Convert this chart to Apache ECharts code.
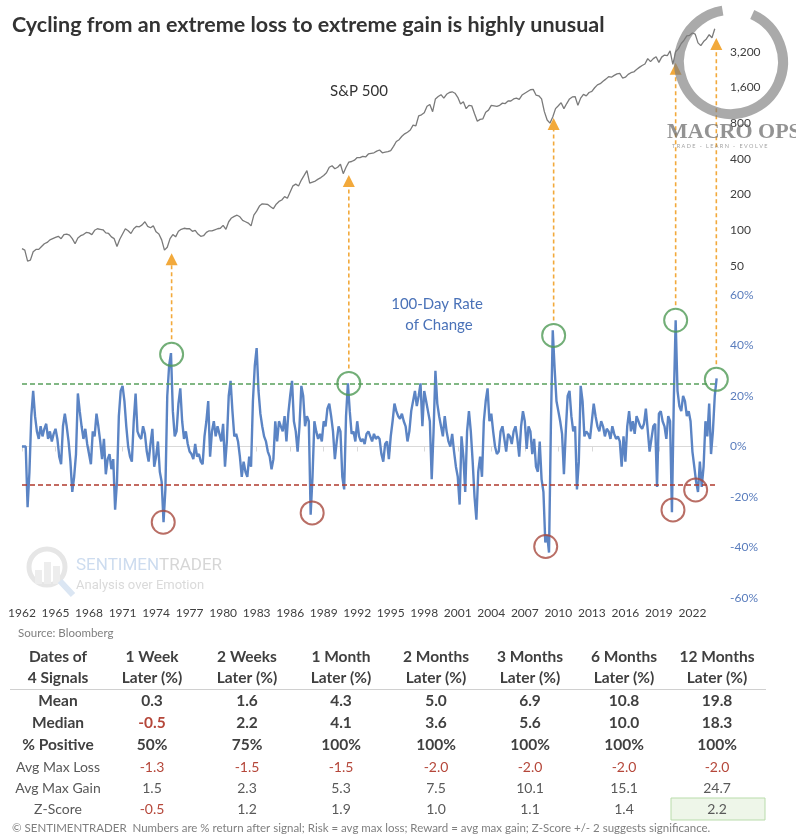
<!DOCTYPE html>
<html>
<head>
<meta charset="utf-8">
<script src="https://cdn.jsdelivr.net/npm/echarts@6.0.0/dist/echarts.min.js"></script>
<style>
  html, body { margin: 0; padding: 0; background: #fff; }
  #chart { width: 796px; height: 834px; }
</style>
</head>
<body>
<div id="chart"></div>
<script>
  // S&P 500, one value per quarter from 1962
  const spStart = 1962, spPerYear = 4;
  const spValues = [
    70, 68, 55, 56,  66, 69, 69, 73,  77, 79, 83, 85,  87, 89, 85, 92,
    93, 91, 85, 77,  86, 90, 92, 96,  95, 92, 100, 103,  102, 101, 95, 94,
    88, 85, 73, 84,  93, 103, 99, 94,  103, 108, 107, 111,  118, 108, 105, 109,
    97, 93, 83, 68,  72, 85, 92, 88,  98, 102, 104, 103,  103, 98, 100, 93,
    89, 90, 96, 99,  99, 101, 103, 104,  110, 102, 118, 127,  131, 134, 130, 121,
    118, 115, 109, 134,  145, 160, 167, 166,  165, 158, 152, 166,  175, 180, 192, 186,
    210, 237, 245, 236,  265, 290, 318, 250,  255, 260, 270, 278,  290, 305, 340, 350,
    330, 340, 360, 300,  340, 375, 380, 390,  410, 410, 420, 415,  440, 445, 450, 465,
    475, 450, 455, 460,  470, 510, 560, 580,  620, 650, 670, 700,  770, 760, 920, 940,
    980, 1110, 1150, 1000,  1280, 1340, 1390, 1300,  1400, 1450, 1470, 1430,  1320, 1160, 1210, 1060,
    1130, 1120, 960, 830,  860, 870, 990, 1030,  1130, 1120, 1110, 1130,  1180, 1170, 1230, 1230,
    1280, 1300, 1270, 1380,  1430, 1480, 1530, 1540,  1380, 1360, 1280, 1000,  850, 800, 900, 1060,
    1120, 1190, 1060, 1170,  1280, 1330, 1340, 1130,  1300, 1400, 1360, 1450,  1480, 1590, 1680, 1720,
    1800, 1880, 1970, 1950,  2020, 2080, 2100, 1920,  1950, 2060, 2130, 2160,  2270, 2360, 2450, 2520,
    2800, 2640, 2800, 2900,  2600, 2880, 3000, 2960,  3250, 2500, 3200, 3400,  3750, 4000, 4350, 4400,
    4600, 4500, 3800, 3600,  3900, 4100, 4450, 4200,  5000
  ];
  const spTicks = [50, 100, 200, 400, 800, 1600, 3200];

  // 100-day rate of change (%), six readings a year from 1962
  const rocStart = 1962, rocPerYear = 6;
  const rocValues = [
    0, 0, 0, -24, -10, 12,     22, 12, 6, 3, 8, 4,       7, 9, 3, 6, 2, 5,         7, 3, -4, -7, 8, 13,
    8, 2, -6, -18, -12, -3,    21, 14, 8, 3, 7, 1,       -3, -7, 6, 4, 13, 8,      2, -5, 3, -11, -5, -3,
    -9, -5, -25, -14, 12, 22,  24, 18, 8, 0, -4, -6,     10, 21, 6, 4, 3, 8,       5, -2, -6, 1, 7, -8,
    -4, 2, -10, -14, -30, -17, 20, 32, 37, 14, 4, 6,     17, 23, 10, 3, 6, 1,      -2, -3, -5, 1, -4, -3,
    -6, -7, 4, 10, 18, -4,     6, 10, 4, 8, 5, 2,        9, -8, 2, 20, 26, 14,     4, 5, 2, -4, -12, -6,
    -10, -12, -4, -8, 18, 32,  39, 22, 13, 8, 4, 2,      -2, -4, -9, -5, 10, 2,    10, 8, 6, 12, 2, 13,
    20, 26, 10, 6, -2, 8,      24, 20, 8, 12, 10, -27,   -12, 10, 6, 3, 5, 2,      10, 8, 15, 17, 12, 6,
    -5, 2, 8, 6, -12, -17,     12, 25, 14, 5, 6, 2,      10, 4, 2, 3, 1, 5,        6, 4, 2, 5, 3, 4,
    3, -3, -6, 1, 2, -5,       4, 10, 17, 14, 12, 11,    13, 10, 8, 2, 6, 14,      14, 22, 16, 20, 25, 8,
    22, 18, 14, 10, -13, 6,    30, 17, 12, 8, 4, 12,     6, 2, 0, 5, -2, -8,       -12, -23, 4, -4, -18, 6,
    14, 6, -6, -20, -29, -10,  -4, -12, 10, 18, 23, 10,  13, 6, 0, -3, -2, 6,      8, 3, -2, 5, 4, 1,
    6, 8, 3, -4, 8, 14,        10, -1, 8, 6, -3, 3,      -8, -10, 2, -13, -18, -38, -35, -42, 8, 46, 31, 18,
    14, 10, 5, -11, 6, 20,     22, 12, 6, 8, -17, -6,    24, 18, 4, 6, 5, 3,       10, 17, 12, 8, 6, 10,
    8, 4, 7, 6, 3, 8,          5, 3, 4, 2, -8, 4,        -6, 8, 14, 6, 10, 5,      12, 10, 8, 7, 9, 15,
    15, -2, 3, 8, 9, -16,      13, 14, 10, 8, 3, 12,     10, -26, 18, 50, 22, 16,  14, 20, 18, 12, 14, 10,
    -2, -8, -14, -18, -6, -16, -8, 10, 4, 17, -3, 6,     20, 27
  ];
  const upperBand = 25, lowerBand = -15;

  // circled extremes [year, roc]
  const gainSignals = [[1975.39, 36.5], [1991.25, 25], [2009.58, 44], [2020.5, 50], [2024.14, 26.6]];
  const lossSignals = [[1974.64, -30], [1987.97, -26.3], [2008.87, -39.6], [2020.26, -25.1], [2022.29, -17.2]];
  // S&P level where each orange arrow ends
  const arrowTips = [64, 293, 886, 2580, 4180];

  // table
  const headTop = ['Dates of', '1 Week', '2 Weeks', '1 Month', '2 Months', '3 Months', '6 Months', '12 Months'];
  const headBottom = ['4 Signals', 'Later (%)', 'Later (%)', 'Later (%)', 'Later (%)', 'Later (%)', 'Later (%)', 'Later (%)'];
  const rowNames = ['Mean', 'Median', '% Positive', 'Avg Max Loss', 'Avg Max Gain', 'Z-Score'];
  const meanRow = ['0.3', '1.6', '4.3', '5.0', '6.9', '10.8', '19.8'];
  const medianRow = ['-0.5', '2.2', '4.1', '3.6', '5.6', '10.0', '18.3'];
  const positiveRow = ['50%', '75%', '100%', '100%', '100%', '100%', '100%'];
  const maxLossRow = ['-1.3', '-1.5', '-1.5', '-2.0', '-2.0', '-2.0', '-2.0'];
  const maxGainRow = ['1.5', '2.3', '5.3', '7.5', '10.1', '15.1', '24.7'];
  const zScoreRow = ['-0.5', '1.2', '1.9', '1.0', '1.1', '1.4', '2.2'];

  const FONT = 'Lato, "Open Sans", sans-serif';
  const X_MIN = 1962, X_MAX = 2024.2;
  const spToAxis = v => Math.log2(v / spTicks[0]);

  const chart = echarts.init(document.getElementById('chart'), null, { renderer: 'canvas' });

  const spData = spValues.map((v, i) => [spStart + i / spPerYear, spToAxis(v)]);
  const rocData = rocValues.map((v, i) => [rocStart + i / rocPerYear, v]);

  chart.setOption({
    animation: false,
    textStyle: { fontFamily: FONT },
    grid: [
      { left: 22, right: 79, top: 16, height: 250 },
      { left: 22, right: 79, top: 295, height: 303 }
    ],
    xAxis: [
      { gridIndex: 0, type: 'value', min: X_MIN, max: X_MAX, show: false },
      {
        gridIndex: 1, type: 'value', min: X_MIN, max: X_MAX, interval: 3,
        axisLine: { lineStyle: { color: '#d9d9d9' } },
        axisTick: { length: 5, lineStyle: { color: '#d9d9d9' } },
        splitLine: { show: false },
        axisLabel: { color: '#404040', fontSize: 12, margin: 9, showMaxLabel: false, formatter: v => String(Math.round(v)) }
      }
    ],
    yAxis: [
      {
        gridIndex: 0, type: 'value', position: 'right', min: 0, max: 7, interval: 1,
        axisLine: { show: false }, axisTick: { show: false }, splitLine: { show: false },
        axisLabel: {
          color: '#404040', fontSize: 12, margin: 13,
          formatter: v => v >= spTicks.length ? '' : (spTicks[0] * Math.pow(2, v)).toLocaleString('en-US')
        }
      },
      {
        gridIndex: 1, type: 'value', position: 'right', min: -60, max: 60, interval: 20,
        axisLine: { show: false }, axisTick: { show: false }, splitLine: { show: false },
        axisLabel: { color: '#5a7dbd', fontSize: 12, margin: 13, formatter: '{value}%' }
      }
    ],
    series: [
      {
        name: 'S&P 500', type: 'line', xAxisIndex: 0, yAxisIndex: 0, data: spData,
        showSymbol: false, lineStyle: { color: '#7a7a7a', width: 1.3 }
      },
      {
        name: '100-Day ROC', type: 'line', xAxisIndex: 1, yAxisIndex: 1, data: rocData,
        showSymbol: false, lineStyle: { color: '#5b84c4', width: 2.4 },
        markLine: {
          silent: true, symbol: 'none', label: { show: false },
          data: [
            { yAxis: upperBand, lineStyle: { color: '#58a05c', type: [5, 3], width: 1.5 } },
            { yAxis: lowerBand, lineStyle: { color: '#b03a2e', type: [5, 3], width: 1.5 } }
          ]
        }
      },
      {
        type: 'scatter', xAxisIndex: 1, yAxisIndex: 1, data: gainSignals, symbolSize: 23, z: 5,
        itemStyle: { color: 'rgba(0,0,0,0)', borderColor: '#4f9a55', borderWidth: 2 }
      },
      {
        type: 'scatter', xAxisIndex: 1, yAxisIndex: 1, data: lossSignals, symbolSize: 23, z: 5,
        itemStyle: { color: 'rgba(0,0,0,0)', borderColor: '#a84a3f', borderWidth: 2 }
      }
    ]
  });

  // annotations, table and watermarks
  const g = [];
  const txt = (text, x, y, font, fill, align, extra) => g.push(Object.assign({
    type: 'text', silent: true, z: 20,
    style: { text, x, y, font, fill, align: align || 'left', verticalAlign: 'middle' }
  }, extra || {}));

  // arrows from each gain signal up to the index
  gainSignals.forEach((s, i) => {
    const c = chart.convertToPixel({ gridIndex: 1 }, s);
    const tip = chart.convertToPixel({ gridIndex: 0 }, [s[0], spToAxis(arrowTips[i])]);
    const x = c[0];
    g.push({
      type: 'line', silent: true, z: 10,
      shape: { x1: x, y1: c[1] - 15, x2: x, y2: tip[1] + 11 },
      style: { stroke: '#f2a93b', lineWidth: 1.6, lineDash: [4, 3] }
    });
    g.push({
      type: 'polygon', silent: true, z: 10,
      shape: { points: [[x, tip[1]], [x - 6, tip[1] + 12], [x + 6, tip[1] + 12]] },
      style: { fill: '#f2a93b' }
    });
  });

  txt('Cycling from an extreme loss to extreme gain is highly unusual', 12, 25, 'bold 21.5px ' + FONT, '#333333');
  txt('S&P 500', 359, 91, '15px ' + FONT, '#333333', 'center');
  txt('100-Day Rate', 437, 304, '15px ' + FONT, '#4a72b8', 'center');
  txt('of Change', 439, 325, '15px ' + FONT, '#4a72b8', 'center');
  txt('Source: Bloomberg', 18, 633, '11.5px ' + FONT, '#7f7f7f');

  // Macro Ops logo
  g.push({
    type: 'arc', silent: true, z: 15,
    shape: { cx: 731, cy: 62, r: 52, startAngle: -1.15, endAngle: 4.55, clockwise: true },
    style: { stroke: 'rgba(125,125,125,0.65)', lineWidth: 10, fill: null }
  });
  txt('MACRO OPS', 667, 132, 'bold 22px "Liberation Serif", serif', 'rgba(105,105,105,0.72)');
  txt('T R A D E   -   L E A R N   -   E V O L V E', 672, 146, '5.5px ' + FONT, 'rgba(120,120,120,0.7)');

  // SentimenTrader watermark
  g.push({
    type: 'circle', silent: true, z: 1,
    shape: { cx: 47, cy: 567, r: 18 },
    style: { stroke: '#e6e6e6', lineWidth: 5, fill: null }
  });
  [[35, 570, 7, 14], [44, 562, 7, 22], [53, 566, 7, 18]].forEach(b => g.push({
    type: 'rect', silent: true, z: 1,
    shape: { x: b[0], y: b[1], width: b[2], height: b[3] },
    style: { fill: '#ededed' }
  }));
  g.push({
    type: 'line', silent: true, z: 1,
    shape: { x1: 60, y1: 581, x2: 73, y2: 595 },
    style: { stroke: '#dbe6f3', lineWidth: 6 }
  });
  g.push({
    type: 'text', silent: true, z: 1,
    style: {
      x: 76, y: 566, verticalAlign: 'middle',
      text: '{a|SENTIMEN}{b|TRADER}',
      rich: {
        a: { font: '17px Roboto, sans-serif', fill: '#cddcef' },
        b: { font: '17px Roboto, sans-serif', fill: '#d6d6d6' }
      }
    }
  });
  txt('Analysis over Emotion', 76, 586, '13px Roboto, sans-serif', '#dadada', 'left', { z: 1 });

  // table
  const colX = [58, 152, 247, 341, 436, 530, 624, 717];
  const dark = '#404040', soft = '#595959', neg = '#b5473a';
  headTop.forEach((t, i) => txt(t, colX[i], 657, 'bold 15.5px ' + FONT, dark, 'center'));
  headBottom.forEach((t, i) => txt(t, colX[i], 678, 'bold 15.5px ' + FONT, dark, 'center'));
  g.push({
    type: 'line', silent: true,
    shape: { x1: 10, y1: 689.5, x2: 766, y2: 689.5 },
    style: { stroke: '#d0d0d0', lineWidth: 1 }
  });
  g.push({
    type: 'rect', silent: true, z: 2,
    shape: { x: 671, y: 798, width: 94, height: 22 },
    style: { fill: '#eef6e9', stroke: '#b9dcab', lineWidth: 1 }
  });
  const rows = [meanRow, medianRow, positiveRow, maxLossRow, maxGainRow, zScoreRow];
  const rowY = [701, 723, 745, 767, 788, 809];
  rows.forEach((r, ri) => {
    const bold = ri < 3;
    const font = (bold ? 'bold 15.5px ' : '14px ') + FONT;
    txt(rowNames[ri], colX[0], rowY[ri], font, bold ? dark : soft, 'center');
    r.forEach((v, ci) => {
      const color = v.charAt(0) === '-' ? neg : (bold ? dark : soft);
      txt(v, colX[ci + 1], rowY[ri], font, color, 'center');
    });
  });
  txt('\u00a9 SENTIMENTRADER  Numbers are % return after signal; Risk = avg max loss; Reward = avg max gain; Z-Score +/- 2 suggests significance.',
    12, 828, '11.5px ' + FONT, '#7f7f7f');

  chart.setOption({ graphic: g });
</script>
</body>
</html>
